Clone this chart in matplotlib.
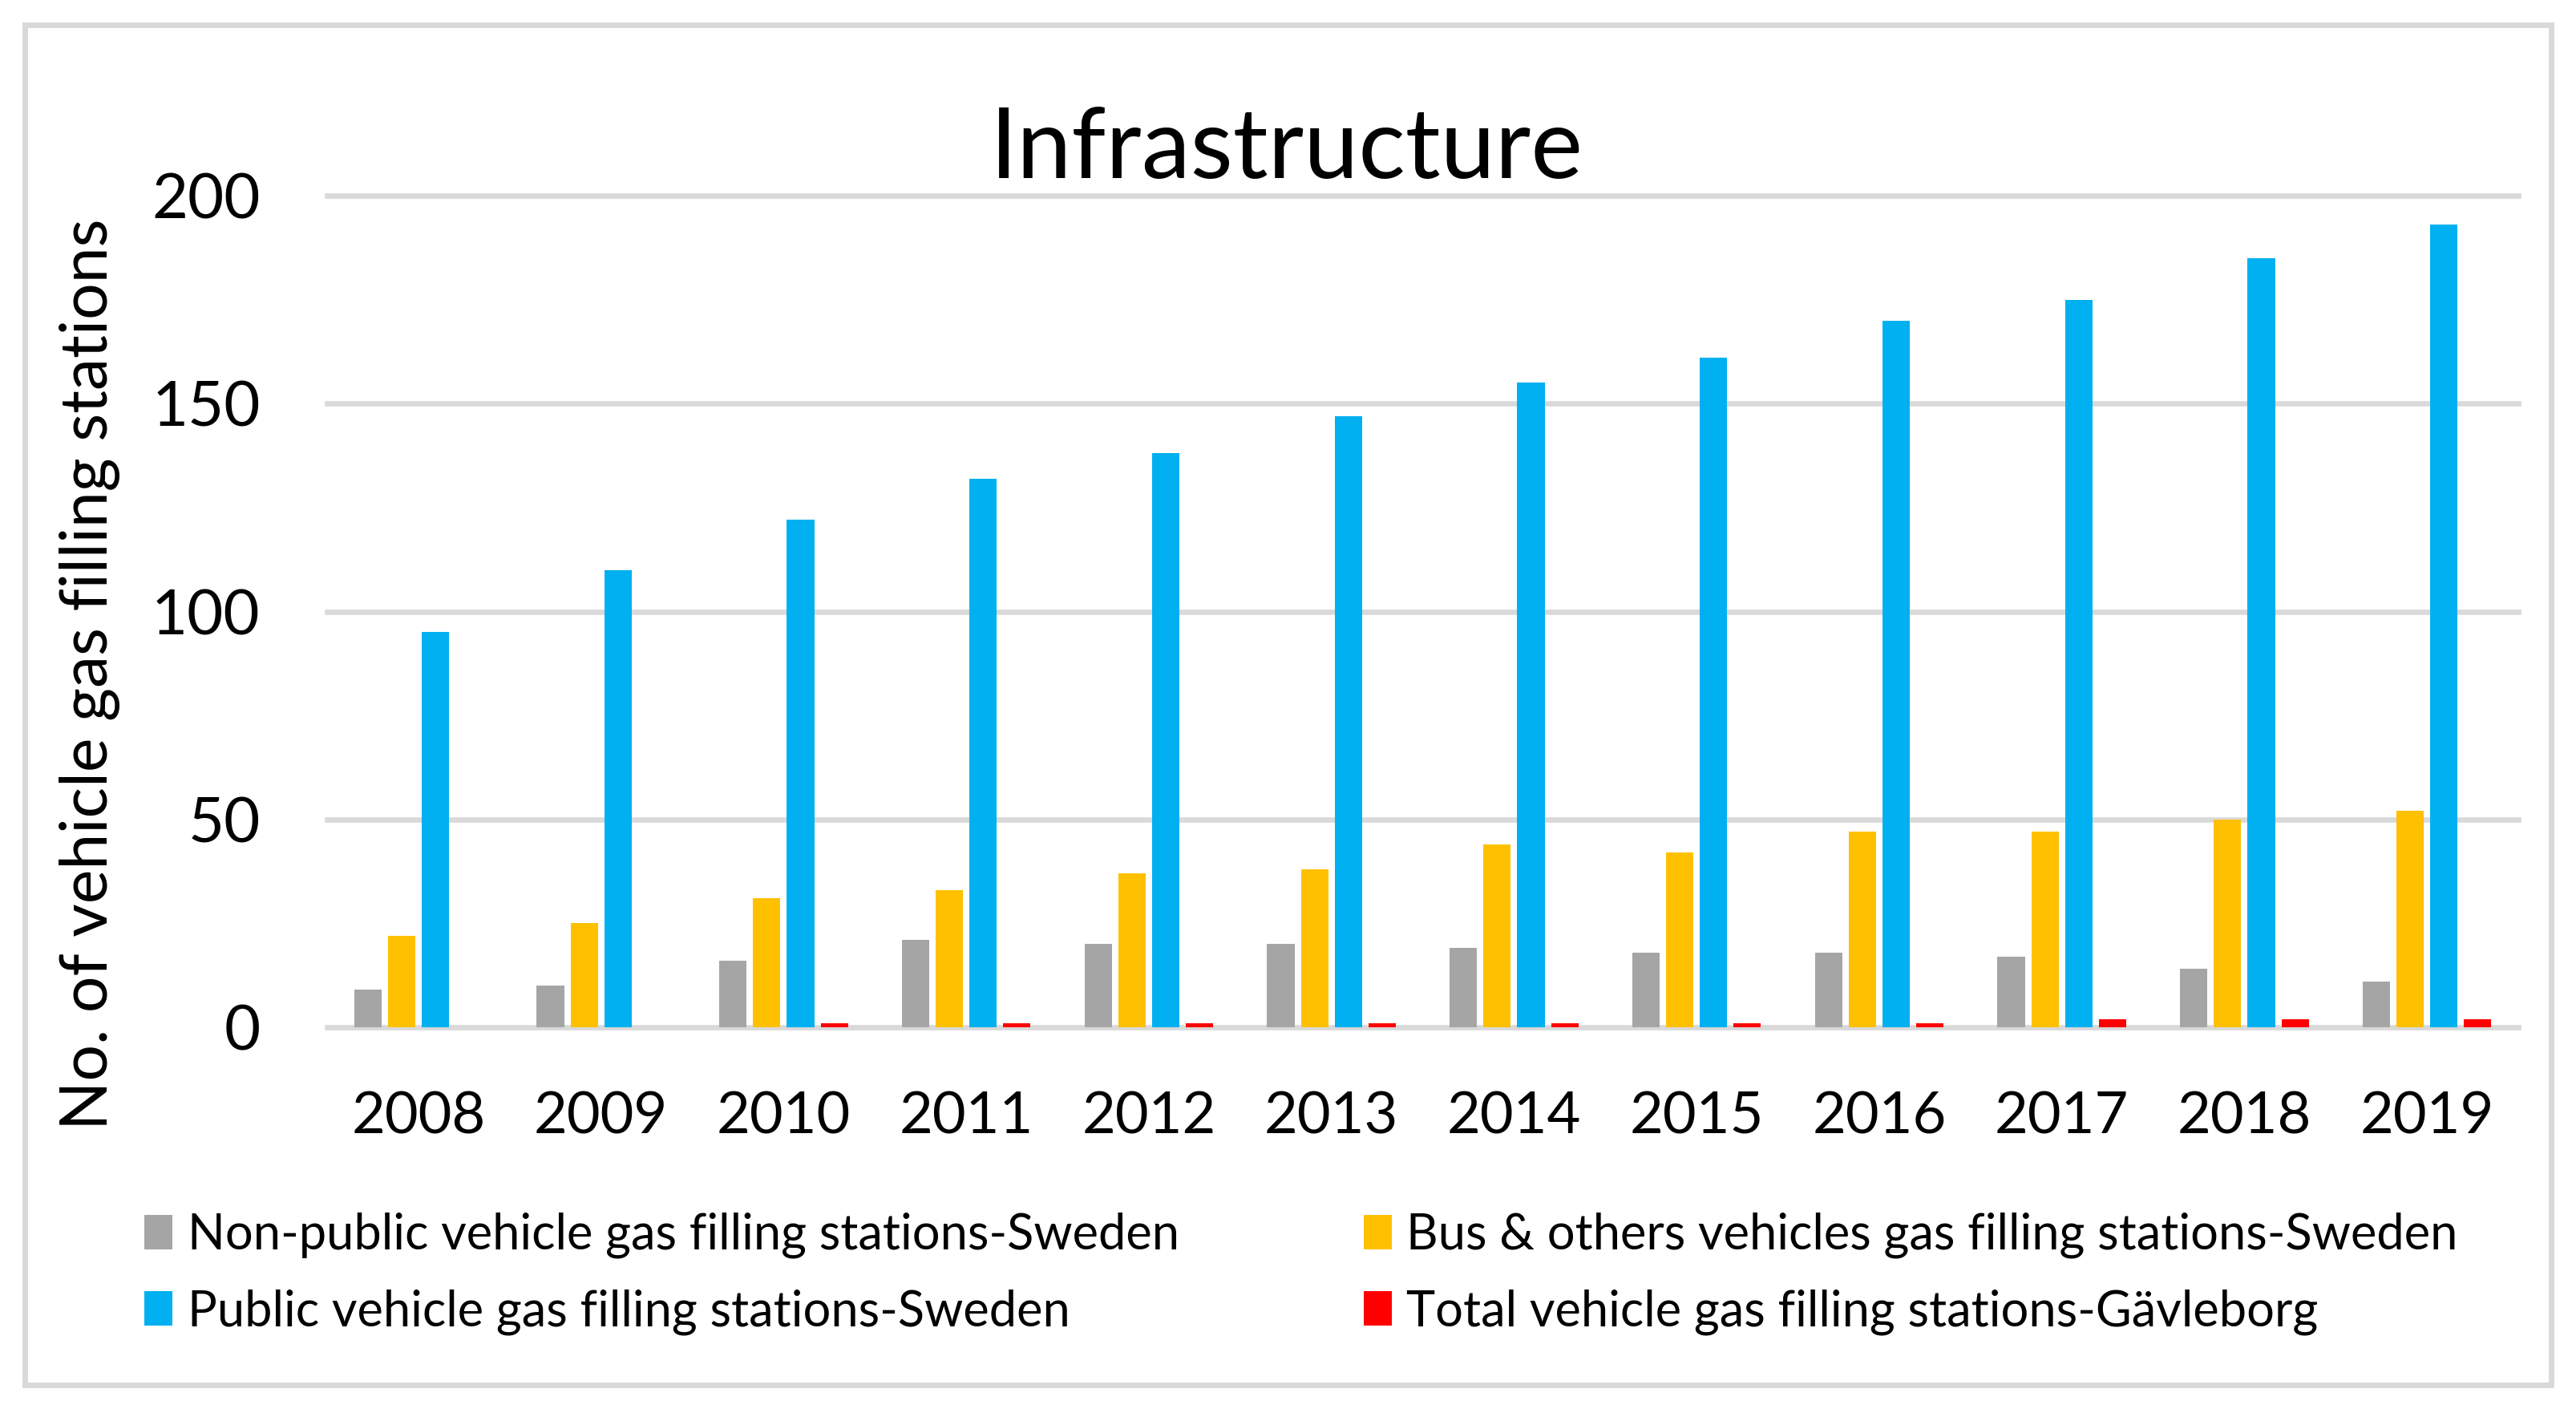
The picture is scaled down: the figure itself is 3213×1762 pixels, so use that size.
import matplotlib.pyplot as plt
import numpy as np
from matplotlib.patches import Rectangle

# data
years = ["2008", "2009", "2010", "2011", "2012", "2013",
         "2014", "2015", "2016", "2017", "2018", "2019"]
non_public = [9, 10, 16, 21, 20, 20, 19, 18, 18, 17, 14, 11]
bus_others = [22, 25, 31, 33, 37, 38, 44, 42, 47, 47, 50, 52]
public = [95, 110, 122, 132, 138, 147, 155, 161, 170, 175, 185, 193]
gavleborg = [0, 0, 1, 1, 1, 1, 1, 1, 1, 2, 2, 2]

labels = ["Non-public vehicle gas filling stations-Sweden",
          "Bus & others vehicles gas filling stations-Sweden",
          "Public vehicle gas filling stations-Sweden",
          "Total vehicle gas filling stations-Gävleborg"]
colors = ["#A5A5A5", "#FFC000", "#00B0F0", "#FF0000"]

plt.rcParams["font.family"] = ["Lato", "DejaVu Sans"]

fig = plt.figure(figsize=(32.13, 17.62), dpi=100)
ax = fig.add_axes([0.127, 0.273, 0.8506, 0.5885])

x = np.arange(len(years))
w = 0.15
step = 0.185
series = [non_public, bus_others, public, gavleborg]
bars = []
for i, vals in enumerate(series):
    b = ax.bar(x + (i - 1.5) * step, vals, width=w, color=colors[i],
               label=labels[i], zorder=3)
    bars.append(b)

ax.set_xlim(-0.5, len(years) - 0.5)
ax.set_ylim(0, 200)
ax.set_yticks([0, 50, 100, 150, 200])
ax.set_xticks(x)
ax.set_xticklabels(years)
ax.yaxis.grid(True, color="#D9D9D9", linewidth=4.8)
ax.set_axisbelow(True)
for s in ax.spines.values():
    s.set_visible(False)
ax.tick_params(axis="x", length=0, labelsize=52, pad=57)
ax.tick_params(axis="y", length=0, labelsize=56, pad=60)
for gl in ax.get_ygridlines():
    gl.set_clip_on(False)

fig.text(0.035, 0.523, "No. of vehicle gas filling stations", rotation=90,
         ha="center", va="center", fontsize=58)
fig.text(0.4994, 0.874, "Infrastructure", ha="center", va="baseline",
         fontsize=88)

# legend: column-wise fill -> gray, blue | yellow, red
order = [0, 2, 1, 3]
leg = fig.legend([bars[i] for i in order], [labels[i] for i in order],
                 ncol=2, loc="upper left", bbox_to_anchor=(0.0485, 0.156),
                 frameon=False, fontsize=44.2, handlelength=0.57,
                 handleheight=0.7, handletextpad=0.3, columnspacing=3.75,
                 labelspacing=0.62, borderaxespad=0)

fig.patches.append(Rectangle((0.0097, 0.0199), 0.9806, 0.9625,
                             transform=fig.transFigure, fill=False,
                             edgecolor="#D9D9D9", linewidth=5))

fig.savefig("out.png", dpi=100, facecolor="white")
